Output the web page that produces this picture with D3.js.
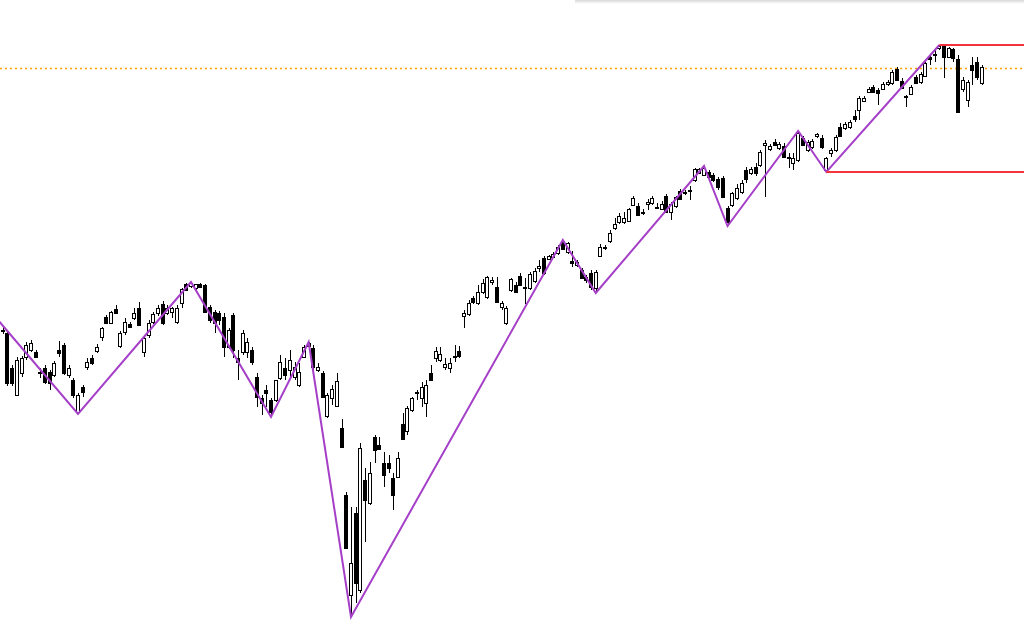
<!DOCTYPE html>
<html>
<head>
<meta charset="utf-8">
<script src="https://cdn.jsdelivr.net/npm/d3@7"></script>
<style>
  html, body { margin: 0; padding: 0; background: #fff; }
  svg { display: block; }
</style>
</head>
<body>
<svg width="1024" height="632"></svg>
<script>
'use strict';

// daily candles, [open, high, low, close]
var ohlc = [
  [310,313,306,309],[307,309,254,257],[272,275,254,257],[245,283,244,280],[267,284,263,282],
  [283,298,280,295],[290,300,288,297],[288,290,282,283],[268,272,262,267],[272,275,256,258],
  [268,270,250,257],[265,279,263,277],[290,299,283,287],[295,297,265,267],[265,275,262,272],
  [260,262,242,245],[228,247,226,245],[253,255,243,248],[273,282,270,278],[282,285,275,277],
  [289,296,287,293],[303,313,299,312],[323,325,316,317],[317,329,316,328],[331,335,326,327],
  [294,309,292,307],[308,322,305,318],[316,318,312,313],[322,332,320,327],[332,338,314,315],
  [288,305,283,302],[305,320,302,317],[318,328,316,326],[327,335,324,332],[336,339,315,317],
  [327,335,325,332],[328,333,322,332],[318,335,316,332],[337,352,332,351],[356,357,349,350],
  [354,358,352,357],[352,356,350,356],[356,357,352,353],[355,356,327,328],[333,335,317,320],
  [328,330,307,317],[327,329,315,320],[323,327,283,293],[293,312,291,310],[325,327,282,290],
  [282,290,260,278],[288,310,285,307],[288,302,282,298],[290,293,275,278],[263,267,233,243],
  [242,245,225,237],[250,255,233,247],[240,242,223,228],[240,260,238,260],[262,285,260,278],
  [272,282,260,265],[270,290,263,280],[263,278,260,273],[255,277,253,268],[283,295,282,293],
  [297,298,293,294],[292,295,270,273],[270,277,268,273],[267,269,242,243],[224,247,222,245],
  [242,255,235,251],[234,267,233,259],[212,221,192,193],[145,148,92,92],[45,133,23,77],
  [127,133,37,57],[50,197,47,192],[160,172,98,140],[137,178,135,167],[203,205,177,190],
  [195,203,190,191],[177,188,153,165],[177,185,167,172],[162,167,130,145],[163,188,162,182],
  [216,227,200,201],[209,234,205,232],[230,243,228,242],[247,250,240,248],[242,258,233,253],
  [237,260,223,255],[267,275,260,260],[282,293,278,289],[280,293,278,286],[273,282,270,276],
  [272,282,267,277],[284,295,278,283],[289,294,282,284],[324,330,312,327],[326,340,324,337],
  [342,344,336,338],[337,355,335,348],[348,361,346,357],[343,364,341,363],[358,363,355,360],
  [353,363,337,338],[333,339,330,337],[317,334,315,332],[350,362,348,361],[355,358,347,348],
  [364,367,354,355],[353,362,336,352],[352,368,350,366],[359,372,357,369],[372,380,368,374],
  [382,384,365,367],[381,385,380,384],[383,388,382,386],[387,395,385,393],[399,400,390,391],
  [388,398,386,397],[379,389,373,377],[375,380,373,378],[370,372,361,362],[363,365,357,360],
  [367,370,350,353],[352,370,347,368],[384,396,383,393],[393,395,390,392],[399,410,397,407],
  [412,422,410,416],[418,427,416,424],[418,428,416,422],[419,432,418,431],[435,444,434,442],
  [434,437,425,425],[428,431,425,427],[436,441,430,438],[437,444,435,442],[432,437,431,433],
  [431,439,430,436],[444,446,427,428],[428,438,420,436],[434,444,432,443],[449,451,440,441],
  [448,450,445,447],[450,454,440,449],[460,472,458,471],[467,472,466,471],[465,474,464,472],
  [468,470,462,463],[465,467,458,460],[461,463,450,453],[462,464,442,443],[432,434,414,418],
  [435,448,433,447],[442,456,440,452],[448,460,446,457],[470,473,457,461],[467,473,465,471],
  [473,477,464,467],[475,490,473,488],[495,500,443,497],[491,496,489,494],[498,501,494,495],
  [492,498,490,496],[494,497,482,483],[483,487,472,482],[477,487,470,482],[480,509,478,507],
  [502,504,494,495],[490,500,488,498],[493,501,491,499],[504,507,502,506],[502,505,491,493],
  [470,483,468,482],[487,492,483,490],[490,505,488,503],[513,517,503,504],[512,518,510,516],
  [513,520,511,518],[524,530,518,521],[530,544,520,542],[539,544,538,542],[548,553,547,551],
  [553,555,547,548],[550,552,535,547],[551,558,550,556],[556,560,554,558],[557,570,555,568],
  [571,573,560,560],[559,562,552,552],[543,545,533,544],[546,555,545,553],[563,565,557,557],
  [558,568,556,566],[564,578,563,577],[583,585,575,581],[586,590,578,585],[592,595,590,594],
  [594,594,562,583],[583,593,582,592],[591,592,578,582],[581,585,528,528],[551,563,548,560],
  [540,560,533,558],[575,583,555,570],[578,583,560,563],[557,575,555,573]
];

// zigzag turning points, [candle index, price]
var pivots = [
  [-3, 331], [16, 226], [40, 358], [57, 223], [65, 298], [74, 23], [119, 400],
  [126, 347], [149, 474], [154, 414], [169, 509], [175, 468], [199, 595]
];

// horizontal levels, drawn from a candle index to the right edge
var levels = [
  {from: 199, price: 595},
  {from: 175, price: 468}
];
var lastPrice = 572;

var svg = d3.select('svg'),
    width = +svg.attr('width'),
    height = +svg.attr('height');

var x = d3.scaleLinear()
    .domain([0, ohlc.length - 1])
    .range([2.7, 981.7]);
var y = d3.scaleLinear()
    .domain([0, 640])
    .range([640, 0]);

// faint shadow of a panel along the top edge
var grad = svg.append('defs').append('linearGradient')
    .attr('id', 'topShade')
    .attr('x1', 0).attr('y1', 0).attr('x2', 0).attr('y2', 1);
grad.append('stop').attr('offset', '0%').attr('stop-color', '#d8d8d8');
grad.append('stop').attr('offset', '100%').attr('stop-color', '#ffffff');
svg.append('rect')
    .attr('x', 575).attr('y', 0)
    .attr('width', width - 575).attr('height', 4)
    .attr('fill', 'url(#topShade)');

// last price, dotted
svg.append('line')
    .attr('x1', 0).attr('x2', width)
    .attr('y1', y(lastPrice) + 0.5).attr('y2', y(lastPrice) + 0.5)
    .attr('stroke', '#ffa000')
    .attr('stroke-width', 1.5)
    .attr('stroke-dasharray', '2,3');

// candles
var candles = svg.append('g')
    .attr('class', 'candles')
    .attr('shape-rendering', 'crispEdges')
    .selectAll('.candle')
    .data(ohlc)
    .enter()
    .append('g')
    .attr('class', 'candle');

candles.append('line')
    .attr('x1', function(d, i) { return Math.round(x(i)) + 0.5; })
    .attr('x2', function(d, i) { return Math.round(x(i)) + 0.5; })
    .attr('y1', function(d) { return Math.round(y(d[1])); })
    .attr('y2', function(d) { return Math.round(y(d[2])); })
    .attr('stroke', '#000');

candles.append('rect')
    .attr('x', function(d, i) { return Math.round(x(i)) - 1.5; })
    .attr('y', function(d) { return Math.round(y(Math.max(d[0], d[3]))) + 0.5; })
    .attr('width', 3)
    .attr('height', function(d) {
        return Math.max(1, Math.round(y(Math.min(d[0], d[3]))) - Math.round(y(Math.max(d[0], d[3]))));
    })
    .attr('fill', function(d) { return d[3] >= d[0] ? '#fff' : '#000'; })
    .attr('stroke', '#000');

// zigzag
var zz = d3.line()
    .x(function(d) { return x(d[0]); })
    .y(function(d) { return y(d[1]); });

svg.append('path')
    .attr('d', zz(pivots))
    .attr('fill', 'none')
    .attr('stroke', '#a53fc8')
    .attr('stroke-width', 2)
    .attr('stroke-linejoin', 'miter');

// levels
svg.selectAll('.level')
    .data(levels)
    .enter()
    .append('line')
    .attr('class', 'level')
    .attr('x1', function(d) { return x(d.from); })
    .attr('x2', width)
    .attr('y1', function(d) { return y(d.price); })
    .attr('y2', function(d) { return y(d.price); })
    .attr('stroke', '#f5333f')
    .attr('stroke-width', 2);
</script>
</body>
</html>
